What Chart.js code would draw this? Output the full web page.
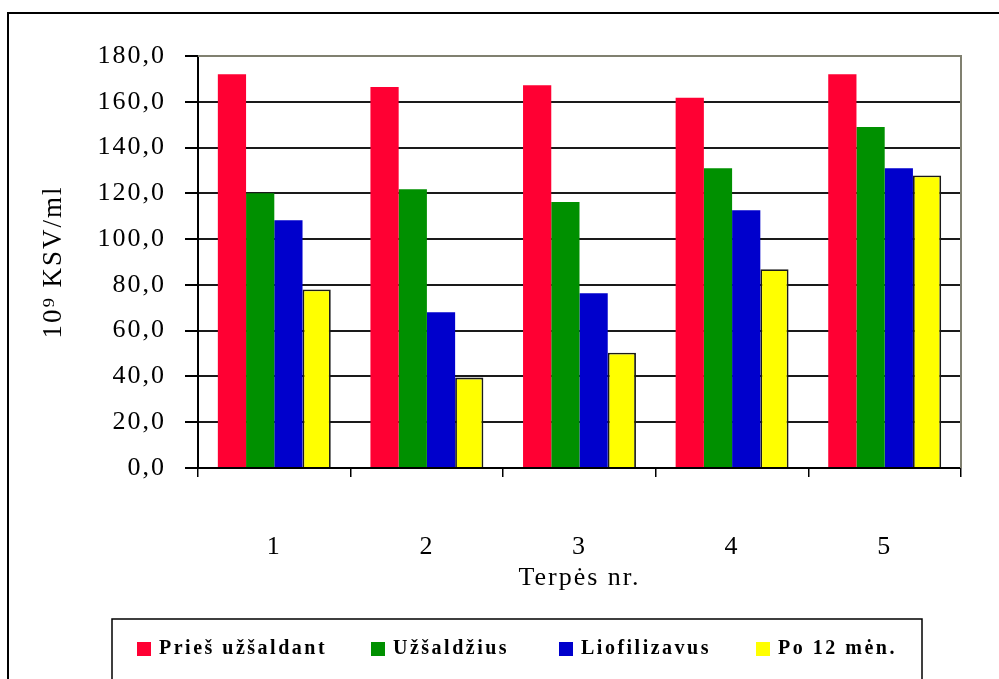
<!DOCTYPE html>
<html>
<head>
<meta charset="utf-8">
<script src="https://cdn.jsdelivr.net/npm/chart.js@4/dist/chart.umd.min.js"></script>
<style>
  html, body { margin: 0; padding: 0; background: #fff; }
  #wrap { width: 999px; height: 679px; }
</style>
</head>
<body>
<div id="wrap"><canvas id="c" width="999" height="679"></canvas></div>
<script>
// Medium numbers on the x axis
const mediums = ['1', '2', '3', '4', '5'];

// Viable cell counts, 10^9 CFU/ml
const beforeFreezing = [172.0, 166.5, 167.2, 161.8, 172.0];
const afterFreezing  = [120.0, 121.8, 116.2, 131.0, 149.0];
const afterDrying    = [108.2, 68.0, 76.3, 112.6, 131.0];
const after12Months  = [78.0, 39.5, 50.4, 86.8, 127.8];

const seriesNames  = ['Prieš užšaldant', 'Užšaldžius', 'Liofilizavus', 'Po 12 mėn.'];
const seriesColors = ['#ff0033', '#009000', '#0000cc', '#ffff00'];

// Value axis ticks
const yTicks = [0, 20, 40, 60, 80, 100, 120, 140, 160, 180];

const serif = 'Liberation Serif, "Times New Roman", serif';
const olive = '#808070';

const seriesValues = [beforeFreezing, afterFreezing, afterDrying, after12Months];
const datasets = seriesValues.map((vals, i) => ({
  label: seriesNames[i],
  data: vals,
  backgroundColor: seriesColors[i],
  borderColor: '#1a1a1a',
  borderWidth: i === 3 ? 1.8 : 0,
  borderSkipped: 'bottom',
  categoryPercentage: 0.74,
  barPercentage: 1.0
}));

// Outer frame, plot border and the boxed legend
const framePlugin = {
  id: 'frame',
  beforeDraw(chart) {
    const ctx = chart.ctx;
    ctx.save();
    ctx.fillStyle = '#fff';
    ctx.fillRect(0, 0, chart.width, chart.height);
    ctx.strokeStyle = '#000';
    ctx.lineWidth = 2;
    ctx.beginPath();
    ctx.moveTo(8, chart.height + 2);
    ctx.lineTo(8, 13);
    ctx.lineTo(chart.width + 2, 13);
    ctx.stroke();
    ctx.restore();
    chart.ctx.letterSpacing = '2px';
  },
  afterDraw(chart) {
    const ctx = chart.ctx;
    const a = chart.chartArea;
    ctx.save();
    ctx.letterSpacing = '0px';
    ctx.strokeStyle = olive;
    ctx.lineWidth = 2;
    ctx.beginPath();
    ctx.moveTo(a.left, a.top);
    ctx.lineTo(a.right, a.top);
    ctx.lineTo(a.right, a.bottom);
    ctx.stroke();

    // legend box
    ctx.strokeStyle = '#000';
    ctx.lineWidth = 1.5;
    ctx.strokeRect(112, 619, 810, 90);
    const legendX = [137, 371, 559, 756];
    ctx.font = 'bold 20px ' + serif;
    ctx.letterSpacing = '2.5px';
    ctx.textBaseline = 'middle';
    ctx.textAlign = 'left';
    chart.data.datasets.forEach((ds, i) => {
      ctx.fillStyle = ds.backgroundColor;
      ctx.fillRect(legendX[i], 642, 14, 14);
      ctx.fillStyle = '#000';
      ctx.fillText(ds.label, legendX[i] + 22, 649);
    });
    ctx.restore();
  }
};

new Chart(document.getElementById('c'), {
  type: 'bar',
  data: { labels: mediums, datasets },
  plugins: [framePlugin],
  options: {
    responsive: false,
    animation: false,
    devicePixelRatio: 1,
    layout: { padding: { left: 0, top: 56, right: 38, bottom: 85 } },
    plugins: { legend: { display: false }, tooltip: { enabled: false } },
    scales: {
      x: {
        grid: { display: true, drawOnChartArea: false, drawTicks: true, tickLength: 9,
                color: '#000', lineWidth: 1.5, offset: true },
        border: { display: true, color: '#000', width: 2 },
        ticks: { color: '#000', padding: 55, font: { family: serif, size: 26 } },
        title: { display: true, text: 'Terpės nr.', color: '#000',
                 font: { family: serif, size: 26 }, padding: { top: 0, bottom: 0 } },
        afterFit(scale) { scale.height = 126; }
      },
      y: {
        min: 0,
        max: 180,
        afterBuildTicks(scale) { scale.ticks = yTicks.map(v => ({ value: v })); },
        ticks: {
          color: '#000', padding: 19, font: { family: serif, size: 26 },
          callback: v => v.toFixed(1).replace('.', ',')
        },
        grid: {
          color: c => (c.tick && c.tick.value === 180 ? olive : '#1a1a1a'),
          tickColor: '#000', lineWidth: 2, tickLength: 13
        },
        border: { display: true, color: '#000', width: 2 },
        title: { display: true, text: '10⁹ KSV/ml', color: '#000', align: 'center',
                 font: { family: serif, size: 27 }, padding: { top: 38, bottom: 0 } },
        afterFit(scale) { scale.width = 198; }
      }
    }
  }
});
</script>
</body>
</html>
